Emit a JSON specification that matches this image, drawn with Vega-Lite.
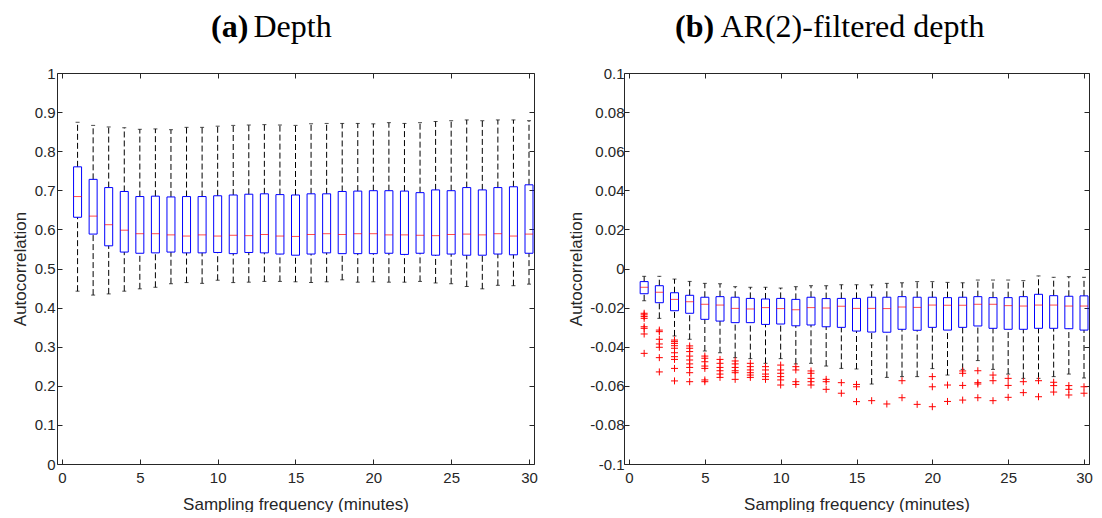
{
"$schema": "https://vega.github.io/schema/vega-lite/v6.json",
"background": "white",
"padding": {"left": 11, "top": 10, "right": 0, "bottom": 0},
"spacing": 29,
"config": {"view": {"stroke": null}, "axis": {"grid": false, "minExtent": 0}},
"datasets": {
"depth": [
{"x":1,"lw":0.442,"q1":0.631,"med":0.684,"q3":0.760,"uw":0.874},
{"x":2,"lw":0.432,"q1":0.588,"med":0.634,"q3":0.728,"uw":0.866},
{"x":3,"lw":0.435,"q1":0.558,"med":0.612,"q3":0.707,"uw":0.862},
{"x":4,"lw":0.442,"q1":0.542,"med":0.598,"q3":0.697,"uw":0.860},
{"x":5,"lw":0.448,"q1":0.539,"med":0.589,"q3":0.684,"uw":0.856},
{"x":6,"lw":0.452,"q1":0.540,"med":0.589,"q3":0.685,"uw":0.857},
{"x":7,"lw":0.461,"q1":0.542,"med":0.586,"q3":0.683,"uw":0.855},
{"x":8,"lw":0.464,"q1":0.540,"med":0.583,"q3":0.684,"uw":0.861},
{"x":9,"lw":0.462,"q1":0.540,"med":0.586,"q3":0.684,"uw":0.861},
{"x":10,"lw":0.470,"q1":0.541,"med":0.583,"q3":0.686,"uw":0.864},
{"x":11,"lw":0.464,"q1":0.538,"med":0.585,"q3":0.688,"uw":0.866},
{"x":12,"lw":0.465,"q1":0.541,"med":0.584,"q3":0.690,"uw":0.867},
{"x":13,"lw":0.467,"q1":0.540,"med":0.587,"q3":0.691,"uw":0.868},
{"x":14,"lw":0.467,"q1":0.537,"med":0.583,"q3":0.689,"uw":0.867},
{"x":15,"lw":0.466,"q1":0.534,"med":0.582,"q3":0.688,"uw":0.866},
{"x":16,"lw":0.464,"q1":0.537,"med":0.587,"q3":0.691,"uw":0.870},
{"x":17,"lw":0.466,"q1":0.540,"med":0.589,"q3":0.691,"uw":0.871},
{"x":18,"lw":0.471,"q1":0.538,"med":0.587,"q3":0.697,"uw":0.871},
{"x":19,"lw":0.465,"q1":0.538,"med":0.589,"q3":0.698,"uw":0.871},
{"x":20,"lw":0.466,"q1":0.538,"med":0.589,"q3":0.699,"uw":0.870},
{"x":21,"lw":0.465,"q1":0.539,"med":0.586,"q3":0.699,"uw":0.873},
{"x":22,"lw":0.465,"q1":0.536,"med":0.586,"q3":0.698,"uw":0.871},
{"x":23,"lw":0.467,"q1":0.539,"med":0.585,"q3":0.694,"uw":0.873},
{"x":24,"lw":0.463,"q1":0.534,"med":0.584,"q3":0.701,"uw":0.876},
{"x":25,"lw":0.461,"q1":0.537,"med":0.587,"q3":0.699,"uw":0.878},
{"x":26,"lw":0.454,"q1":0.534,"med":0.588,"q3":0.707,"uw":0.880},
{"x":27,"lw":0.448,"q1":0.534,"med":0.586,"q3":0.701,"uw":0.878},
{"x":28,"lw":0.457,"q1":0.537,"med":0.589,"q3":0.707,"uw":0.880},
{"x":29,"lw":0.456,"q1":0.535,"med":0.583,"q3":0.709,"uw":0.880},
{"x":30,"lw":0.460,"q1":0.539,"med":0.588,"q3":0.714,"uw":0.878}
],
"ar2": [
{"x":1,"lw":-0.0165,"q1":-0.0129,"med":-0.0096,"q3":-0.0067,"uw":-0.0040},
{"x":2,"lw":-0.0255,"q1":-0.0175,"med":-0.0122,"q3":-0.0088,"uw":-0.0040},
{"x":3,"lw":-0.0345,"q1":-0.0216,"med":-0.0158,"q3":-0.0124,"uw":-0.0054},
{"x":4,"lw":-0.0362,"q1":-0.0229,"med":-0.0170,"q3":-0.0137,"uw":-0.0066},
{"x":5,"lw":-0.0422,"q1":-0.0260,"med":-0.0183,"q3":-0.0147,"uw":-0.0076},
{"x":6,"lw":-0.0431,"q1":-0.0269,"med":-0.0187,"q3":-0.0144,"uw":-0.0078},
{"x":7,"lw":-0.0456,"q1":-0.0277,"med":-0.0204,"q3":-0.0147,"uw":-0.0093},
{"x":8,"lw":-0.0461,"q1":-0.0277,"med":-0.0207,"q3":-0.0153,"uw":-0.0096},
{"x":9,"lw":-0.0485,"q1":-0.0286,"med":-0.0200,"q3":-0.0156,"uw":-0.0096},
{"x":10,"lw":-0.0461,"q1":-0.0284,"med":-0.0205,"q3":-0.0153,"uw":-0.0100},
{"x":11,"lw":-0.0488,"q1":-0.0293,"med":-0.0211,"q3":-0.0158,"uw":-0.0093},
{"x":12,"lw":-0.0485,"q1":-0.0289,"med":-0.0200,"q3":-0.0147,"uw":-0.0088},
{"x":13,"lw":-0.0499,"q1":-0.0298,"med":-0.0202,"q3":-0.0154,"uw":-0.0088},
{"x":14,"lw":-0.0511,"q1":-0.0301,"med":-0.0193,"q3":-0.0153,"uw":-0.0083},
{"x":15,"lw":-0.0514,"q1":-0.0320,"med":-0.0204,"q3":-0.0153,"uw":-0.0083},
{"x":16,"lw":-0.0591,"q1":-0.0325,"med":-0.0204,"q3":-0.0147,"uw":-0.0084},
{"x":17,"lw":-0.0557,"q1":-0.0326,"med":-0.0205,"q3":-0.0147,"uw":-0.0076},
{"x":18,"lw":-0.0553,"q1":-0.0311,"med":-0.0197,"q3":-0.0144,"uw":-0.0073},
{"x":19,"lw":-0.0553,"q1":-0.0316,"med":-0.0199,"q3":-0.0147,"uw":-0.0067},
{"x":20,"lw":-0.0512,"q1":-0.0301,"med":-0.0187,"q3":-0.0147,"uw":-0.0067},
{"x":21,"lw":-0.0545,"q1":-0.0315,"med":-0.0188,"q3":-0.0149,"uw":-0.0071},
{"x":22,"lw":-0.0516,"q1":-0.0301,"med":-0.0188,"q3":-0.0147,"uw":-0.0073},
{"x":23,"lw":-0.0471,"q1":-0.0294,"med":-0.0183,"q3":-0.0144,"uw":-0.0059},
{"x":24,"lw":-0.0516,"q1":-0.0306,"med":-0.0183,"q3":-0.0149,"uw":-0.0059},
{"x":25,"lw":-0.0540,"q1":-0.0311,"med":-0.0190,"q3":-0.0149,"uw":-0.0059},
{"x":26,"lw":-0.0562,"q1":-0.0311,"med":-0.0192,"q3":-0.0144,"uw":-0.0062},
{"x":27,"lw":-0.0562,"q1":-0.0306,"med":-0.0187,"q3":-0.0132,"uw":-0.0038},
{"x":28,"lw":-0.0553,"q1":-0.0306,"med":-0.0187,"q3":-0.0139,"uw":-0.0045},
{"x":29,"lw":-0.0540,"q1":-0.0308,"med":-0.0192,"q3":-0.0142,"uw":-0.0042},
{"x":30,"lw":-0.0560,"q1":-0.0315,"med":-0.0192,"q3":-0.0140,"uw":-0.0045}
],
"ar2out": [
{"x":1,"v":-0.0229},{"x":1,"v":-0.0237},{"x":1,"v":-0.0246},{"x":1,"v":-0.0255},{"x":1,"v":-0.0298},{"x":1,"v":-0.0306},{"x":1,"v":-0.0335},{"x":1,"v":-0.0434},
{"x":2,"v":-0.0315},{"x":2,"v":-0.0323},{"x":2,"v":-0.0362},{"x":2,"v":-0.0386},{"x":2,"v":-0.0403},{"x":2,"v":-0.0456},{"x":2,"v":-0.0529},
{"x":3,"v":-0.0366},{"x":3,"v":-0.0374},{"x":3,"v":-0.0383},{"x":3,"v":-0.0395},{"x":3,"v":-0.0408},{"x":3,"v":-0.0431},{"x":3,"v":-0.0451},{"x":3,"v":-0.0465},{"x":3,"v":-0.0511},{"x":3,"v":-0.0575},
{"x":4,"v":-0.0396},{"x":4,"v":-0.0408},{"x":4,"v":-0.0425},{"x":4,"v":-0.0448},{"x":4,"v":-0.0468},{"x":4,"v":-0.0488},{"x":4,"v":-0.0506},{"x":4,"v":-0.0533},{"x":4,"v":-0.0579},
{"x":5,"v":-0.0448},{"x":5,"v":-0.0459},{"x":5,"v":-0.0477},{"x":5,"v":-0.0499},{"x":5,"v":-0.0511},{"x":5,"v":-0.0570},{"x":5,"v":-0.0579},
{"x":6,"v":-0.0465},{"x":6,"v":-0.0485},{"x":6,"v":-0.0506},{"x":6,"v":-0.0523},{"x":6,"v":-0.0540},{"x":6,"v":-0.0557},
{"x":7,"v":-0.0473},{"x":7,"v":-0.0488},{"x":7,"v":-0.0506},{"x":7,"v":-0.0523},{"x":7,"v":-0.0533},{"x":7,"v":-0.0567},
{"x":8,"v":-0.0485},{"x":8,"v":-0.0502},{"x":8,"v":-0.0519},{"x":8,"v":-0.0533},{"x":8,"v":-0.0545},{"x":8,"v":-0.0557},
{"x":9,"v":-0.0502},{"x":9,"v":-0.0519},{"x":9,"v":-0.0540},{"x":9,"v":-0.0553},{"x":9,"v":-0.0567},
{"x":10,"v":-0.0494},{"x":10,"v":-0.0519},{"x":10,"v":-0.0536},{"x":10,"v":-0.0553},{"x":10,"v":-0.0570},{"x":10,"v":-0.0596},
{"x":11,"v":-0.0502},{"x":11,"v":-0.0519},{"x":11,"v":-0.0579},{"x":11,"v":-0.0593},
{"x":12,"v":-0.0524},{"x":12,"v":-0.0536},{"x":12,"v":-0.0562},{"x":12,"v":-0.0579},{"x":12,"v":-0.0596},
{"x":13,"v":-0.0567},{"x":13,"v":-0.0579},{"x":13,"v":-0.0618},
{"x":14,"v":-0.0584},{"x":14,"v":-0.0638},
{"x":15,"v":-0.0593},{"x":15,"v":-0.0605},{"x":15,"v":-0.0681},
{"x":16,"v":-0.0676},
{"x":17,"v":-0.0693},
{"x":18,"v":-0.0574},{"x":18,"v":-0.0661},
{"x":19,"v":-0.0695},
{"x":20,"v":-0.0553},{"x":20,"v":-0.0605},{"x":20,"v":-0.0707},
{"x":21,"v":-0.0596},{"x":21,"v":-0.0680},
{"x":22,"v":-0.0524},{"x":22,"v":-0.0536},{"x":22,"v":-0.0598},{"x":22,"v":-0.0673},
{"x":23,"v":-0.0523},{"x":23,"v":-0.0584},{"x":23,"v":-0.0591},{"x":23,"v":-0.0661},
{"x":24,"v":-0.0545},{"x":24,"v":-0.0574},{"x":24,"v":-0.0676},
{"x":25,"v":-0.0562},{"x":25,"v":-0.0598},{"x":25,"v":-0.0659},
{"x":26,"v":-0.0579},{"x":26,"v":-0.0635},
{"x":27,"v":-0.0574},{"x":27,"v":-0.0656},
{"x":28,"v":-0.0582},{"x":28,"v":-0.0599},{"x":28,"v":-0.0632},
{"x":29,"v":-0.0599},{"x":29,"v":-0.0618},{"x":29,"v":-0.0647},
{"x":30,"v":-0.0605},{"x":30,"v":-0.0638}
]
},
"hconcat": [
{
"width": 477, "height": 391,
"title": {"text": "(a)", "font": "Liberation Serif", "fontSize": 32, "fontWeight": "bold", "color": "black", "anchor": "start", "frame": "group", "dx": 154, "baseline": "alphabetic", "offset": -59},
"data": {"name": "depth"},
"resolve": {"axis": {"x": "independent", "y": "independent"}},
"layer": [
{"mark": {"type": "rule", "strokeDash": [6, 3], "color": "black", "strokeWidth": 1, "clip": true},
 "encoding": {
  "x": {"field": "x", "type": "quantitative", "scale": {"domain": [0, 30], "nice": false, "zero": false},
   "axis": {"orient": "bottom", "values": [0,5,10,15,20,25,30], "tickSize": -5, "tickColor": "#262626", "domainColor": "#262626", "labelFont": "Liberation Sans", "labelFontSize": 15, "labelColor": "#262626", "labelPadding": 11, "labelFlush": false, "labelOverlap": false, "labelExpr": "'' + datum.value", "title": "Sampling frequency (minutes)", "titleFont": "Liberation Sans", "titleFontSize": 17, "titleFontWeight": "normal", "titleColor": "#262626", "titlePadding": 11}},
  "y": {"field": "q3", "type": "quantitative", "scale": {"domain": [0, 1], "nice": false, "zero": false},
   "axis": {"orient": "left", "minExtent": 0, "values": [0,0.1,0.2,0.3,0.4,0.5,0.6,0.7,0.8,0.9,1], "tickSize": -5, "tickColor": "#262626", "domainColor": "#262626", "labelFont": "Liberation Sans", "labelFontSize": 15, "labelColor": "#262626", "labelPadding": 7, "labelFlush": false, "labelOverlap": false, "labelExpr": "'' + datum.value", "title": "Autocorrelation", "titleFont": "Liberation Sans", "titleFontSize": 17, "titleFontWeight": "normal", "titleColor": "#262626", "titlePadding": 5}},
  "y2": {"field": "uw"}}},
{"mark": {"type": "rule", "strokeDash": [6, 3], "color": "black", "strokeWidth": 1, "clip": true},
 "encoding": {"x": {"field": "x", "type": "quantitative", "axis": null}, "y": {"field": "lw", "type": "quantitative", "axis": null}, "y2": {"field": "q1"}}},
{"mark": {"type": "tick", "orient": "horizontal", "size": 4, "thickness": 1, "color": "black", "clip": true},
 "encoding": {"x": {"field": "x", "type": "quantitative", "axis": null}, "y": {"field": "uw", "type": "quantitative", "axis": null}}},
{"mark": {"type": "tick", "orient": "horizontal", "size": 4, "thickness": 1, "color": "black", "clip": true},
 "encoding": {"x": {"field": "x", "type": "quantitative", "axis": null}, "y": {"field": "lw", "type": "quantitative", "axis": null}}},
{"mark": {"type": "bar", "width": 8, "fill": "white", "fillOpacity": 0, "stroke": "#0000ff", "strokeWidth": 1, "clip": true},
 "encoding": {"x": {"field": "x", "type": "quantitative", "axis": null}, "y": {"field": "q1", "type": "quantitative", "axis": null}, "y2": {"field": "q3"}}},
{"mark": {"type": "tick", "orient": "horizontal", "size": 8, "thickness": 1, "color": "#ff0000", "clip": true},
 "encoding": {"x": {"field": "x", "type": "quantitative", "axis": null}, "y": {"field": "med", "type": "quantitative", "axis": null}}},
{"mark": {"type": "point", "opacity": 0, "clip": true},
 "encoding": {
  "x": {"field": "x", "type": "quantitative", "axis": {"orient": "top", "values": [0,5,10,15,20,25,30], "tickSize": -5, "tickColor": "#262626", "domainColor": "#262626", "labels": false, "title": "Depth", "titleFont": "Liberation Serif", "titleFontSize": 32, "titleFontWeight": "normal", "titleColor": "black", "titleX": 196, "titleY": -37, "titleAlign": "left", "titleBaseline": "alphabetic"}},
  "y": {"field": "med", "type": "quantitative", "axis": {"orient": "right", "minExtent": 0, "values": [0,0.1,0.2,0.3,0.4,0.5,0.6,0.7,0.8,0.9,1], "tickSize": -5, "tickColor": "#262626", "domainColor": "#262626", "labels": false, "title": null}}}}
]
},
{
"width": 465, "height": 391,
"title": {"text": "(b)", "font": "Liberation Serif", "fontSize": 32, "fontWeight": "bold", "color": "black", "anchor": "start", "frame": "group", "dx": 51, "baseline": "alphabetic", "offset": -59},
"data": {"name": "ar2"},
"resolve": {"axis": {"x": "independent", "y": "independent"}},
"layer": [
{"mark": {"type": "rule", "strokeDash": [6, 3], "color": "black", "strokeWidth": 1, "clip": true},
 "encoding": {
  "x": {"field": "x", "type": "quantitative", "scale": {"domain": [0, 30], "nice": false, "zero": false},
   "axis": {"orient": "bottom", "values": [0,5,10,15,20,25,30], "tickSize": -5, "tickColor": "#262626", "domainColor": "#262626", "labelFont": "Liberation Sans", "labelFontSize": 15, "labelColor": "#262626", "labelPadding": 11, "labelFlush": false, "labelOverlap": false, "labelExpr": "'' + datum.value", "title": "Sampling frequency (minutes)", "titleFont": "Liberation Sans", "titleFontSize": 17, "titleFontWeight": "normal", "titleColor": "#262626", "titlePadding": 11}},
  "y": {"field": "q3", "type": "quantitative", "scale": {"domain": [-0.1, 0.1], "nice": false, "zero": false},
   "axis": {"orient": "left", "minExtent": 0, "values": [-0.1,-0.08,-0.06,-0.04,-0.02,0,0.02,0.04,0.06,0.08,0.1], "tickSize": -5, "tickColor": "#262626", "domainColor": "#262626", "labelFont": "Liberation Sans", "labelFontSize": 15, "labelColor": "#262626", "labelPadding": 5, "labelFlush": false, "labelOverlap": false, "labelExpr": "'' + datum.value", "title": "Autocorrelation", "titleFont": "Liberation Sans", "titleFontSize": 17, "titleFontWeight": "normal", "titleColor": "#262626", "titlePadding": 4}},
  "y2": {"field": "uw"}}},
{"mark": {"type": "rule", "strokeDash": [6, 3], "color": "black", "strokeWidth": 1, "clip": true},
 "encoding": {"x": {"field": "x", "type": "quantitative", "axis": null}, "y": {"field": "lw", "type": "quantitative", "axis": null}, "y2": {"field": "q1"}}},
{"mark": {"type": "tick", "orient": "horizontal", "size": 4, "thickness": 1, "color": "black", "clip": true},
 "encoding": {"x": {"field": "x", "type": "quantitative", "axis": null}, "y": {"field": "uw", "type": "quantitative", "axis": null}}},
{"mark": {"type": "tick", "orient": "horizontal", "size": 4, "thickness": 1, "color": "black", "clip": true},
 "encoding": {"x": {"field": "x", "type": "quantitative", "axis": null}, "y": {"field": "lw", "type": "quantitative", "axis": null}}},
{"mark": {"type": "bar", "width": 8, "fill": "white", "fillOpacity": 0, "stroke": "#0000ff", "strokeWidth": 1, "clip": true},
 "encoding": {"x": {"field": "x", "type": "quantitative", "axis": null}, "y": {"field": "q1", "type": "quantitative", "axis": null}, "y2": {"field": "q3"}}},
{"mark": {"type": "tick", "orient": "horizontal", "size": 8, "thickness": 1, "color": "#ff0000", "clip": true},
 "encoding": {"x": {"field": "x", "type": "quantitative", "axis": null}, "y": {"field": "med", "type": "quantitative", "axis": null}}},
{"data": {"name": "ar2out"},
 "mark": {"type": "point", "shape": "M-1,0L1,0M0,-1L0,1", "size": 49, "filled": false, "stroke": "#ff0000", "strokeWidth": 1, "opacity": 1, "clip": true},
 "encoding": {"x": {"field": "x", "type": "quantitative", "axis": null}, "y": {"field": "v", "type": "quantitative", "axis": null}}},
{"mark": {"type": "point", "opacity": 0, "clip": true},
 "encoding": {
  "x": {"field": "x", "type": "quantitative", "axis": {"orient": "top", "values": [0,5,10,15,20,25,30], "tickSize": -5, "tickColor": "#262626", "domainColor": "#262626", "labels": false, "title": "AR(2)-filtered depth", "titleFont": "Liberation Serif", "titleFontSize": 32, "titleFontWeight": "normal", "titleColor": "black", "titleX": 96, "titleY": -37, "titleAlign": "left", "titleBaseline": "alphabetic"}},
  "y": {"field": "med", "type": "quantitative", "axis": {"orient": "right", "minExtent": 0, "values": [-0.1,-0.08,-0.06,-0.04,-0.02,0,0.02,0.04,0.06,0.08,0.1], "tickSize": -5, "tickColor": "#262626", "domainColor": "#262626", "labels": false, "title": null}}}}
]
}
]
}
